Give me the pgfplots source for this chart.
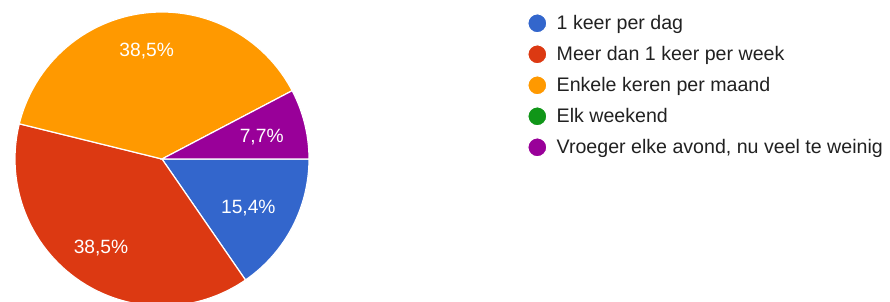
\documentclass[border=0pt]{standalone}
\usepackage{pgfplots}
\pgfplotsset{compat=1.18}
\usepackage{fontspec}
\setmainfont{Liberation Sans}
\definecolor{gblue}{HTML}{3366CC}
\definecolor{gred}{HTML}{DC3912}
\definecolor{gorange}{HTML}{FF9900}
\definecolor{ggreen}{HTML}{109618}
\definecolor{gpurple}{HTML}{990099}
\definecolor{gtext}{HTML}{212121}
% answer counts (out of 13)
\def\nA{2}% 1 keer per dag
\def\nB{5}% Meer dan 1 keer per week
\def\nC{5}% Enkele keren per maand
\def\nD{0}% Elk weekend
\def\nE{1}% Vroeger elke avond, nu veel te weinig
\pgfmathsetmacro\tot{\nA+\nB+\nC+\nD+\nE}
\pgfmathsetmacro\aA{-360*\nA/\tot}
\pgfmathsetmacro\aB{\aA-360*\nB/\tot}
\pgfmathsetmacro\aC{\aB-360*\nC/\tot}
\pgfmathsetmacro\aD{\aC-360*\nD/\tot}
\pgfmathsetmacro\aE{\aD-360*\nE/\tot}
\def\cx{162}\def\cy{143}\def\rr{147}
\begin{document}
\begin{tikzpicture}
\useasboundingbox (0,0) rectangle (890pt,302pt);
\begin{axis}[
  at={(0,0)}, anchor=south west,
  scale only axis, width=890pt, height=302pt,
  xmin=0, xmax=890, ymin=0, ymax=302,
  hide axis,
  legend style={at={(axis cs:527,289)}, anchor=north west, draw=none, fill=none,
    inner sep=0pt, row sep=10.8pt, font=\fontsize{19.6}{23}\selectfont, text=gtext,
    nodes={inner sep=2pt}, cells={anchor=west},
    /tikz/every odd column/.append style={column sep=7.3pt}},
  legend cell align=left,
  legend image code/.code={\fill[#1] (0pt,0pt) circle (9.5pt);},
  every axis plot/.append style={draw=white, line width=1.2pt, samples=90, variable=\t, forget plot},
]
\addplot[fill=gblue, domain=\aA:0] ({\cx+\rr*cos(t)},{\cy+\rr*sin(t)}) -- (axis cs:\cx,\cy) -- cycle;
\addplot[fill=gred, domain=\aB:\aA] ({\cx+\rr*cos(t)},{\cy+\rr*sin(t)}) -- (axis cs:\cx,\cy) -- cycle;
\addplot[fill=gorange, domain=\aC:\aB] ({\cx+\rr*cos(t)},{\cy+\rr*sin(t)}) -- (axis cs:\cx,\cy) -- cycle;
\addplot[fill=gpurple, domain=\aE:\aD] ({\cx+\rr*cos(t)},{\cy+\rr*sin(t)}) -- (axis cs:\cx,\cy) -- cycle;

\begin{scope}[every node/.style={text=white, font=\fontsize{19.2}{22}\selectfont, anchor=base}]
\node at (axis cs:248.3,88.5) {15,4\%};
\node at (axis cs:261.7,159.2) {7,7\%};
\node at (axis cs:146.7,245.9) {38,5\%};
\node at (axis cs:101,48.5) {38,5\%};
\end{scope}

\addlegendimage{fill=gblue}
\addlegendentry{1 keer per dag}
\addlegendimage{fill=gred}
\addlegendentry{Meer dan 1 keer per week}
\addlegendimage{fill=gorange}
\addlegendentry{Enkele keren per maand}
\addlegendimage{fill=ggreen}
\addlegendentry{Elk weekend}
\addlegendimage{fill=gpurple}
\addlegendentry{Vroeger elke avond, nu veel te weinig}
\end{axis}
\end{tikzpicture}
\end{document}
